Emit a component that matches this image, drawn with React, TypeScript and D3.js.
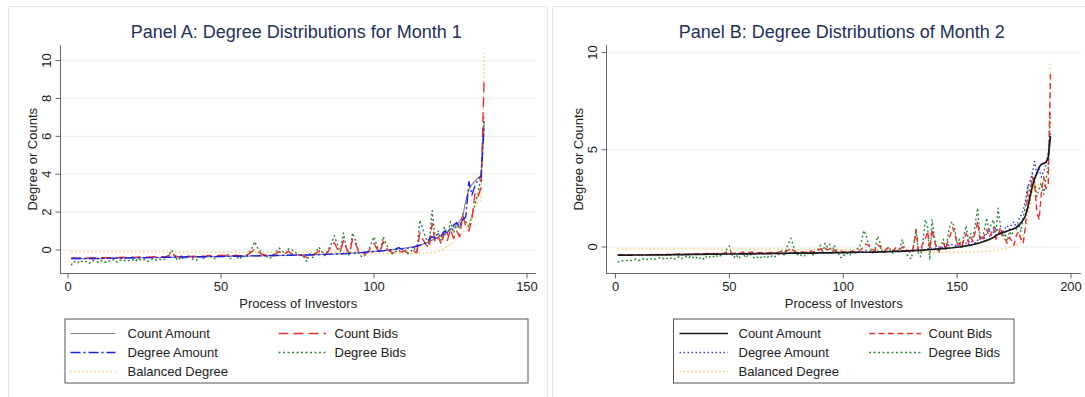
import * as d3 from 'd3';

const fontFamily = '"Liberation Sans", Arial, Helvetica, sans-serif';

// Panel A: month 1, investors 1..136 (sorted)
const m1CountAmount = [
  -0.46, -0.46, -0.46, -0.46, -0.46, -0.45, -0.45, -0.45, -0.45, -0.45,
  -0.45, -0.44, -0.44, -0.44, -0.44, -0.43, -0.43, -0.43, -0.43, -0.42,
  -0.42, -0.42, -0.42, -0.41, -0.41, -0.41, -0.41, -0.4, -0.4, -0.4,
  -0.4, -0.39, -0.39, -0.39, -0.38, -0.38, -0.38, -0.38, -0.37, -0.37,
  -0.37, -0.37, -0.36, -0.36, -0.36, -0.35, -0.35, -0.35, -0.35, -0.34,
  -0.34, -0.34, -0.33, -0.33, -0.33, -0.33, -0.32, -0.32, -0.32, -0.31,
  -0.31, -0.31, -0.31, -0.3, -0.3, -0.3, -0.29, -0.29, -0.29, -0.28,
  -0.28, -0.28, -0.27, -0.27, -0.27, -0.26, -0.26, -0.26, -0.25, -0.25,
  -0.24, -0.24, -0.23, -0.23, -0.22, -0.22, -0.21, -0.2, -0.2, -0.19,
  -0.18, -0.17, -0.16, -0.15, -0.14, -0.13, -0.12, -0.1, -0.09, -0.08,
  -0.06, -0.05, -0.03, -0.02, 0, 0.02, 0.04, 0.06, 0.08, 0.1,
  0.12, 0.15, 0.18, 0.22, 0.26, 0.31, 0.37, 0.44, 0.52, 0.6,
  0.68, 0.76, 0.85, 0.95, 1.05, 1.18, 1.32, 1.5, 1.8, 2.6,
  3.2, 3.45, 3.65, 3.8, 3.95, 6.8,
];
const m1DegreeAmount = [
  -0.45, -0.45, -0.45, -0.45, -0.45, -0.45, -0.45, -0.45, -0.45, -0.44,
  -0.44, -0.44, -0.44, -0.43, -0.43, -0.43, -0.42, -0.42, -0.42, -0.42,
  -0.41, -0.41, -0.41, -0.4, -0.41, -0.4, -0.4, -0.4, -0.39, -0.39,
  -0.39, -0.38, -0.38, -0.38, -0.37, -0.38, -0.37, -0.37, -0.36, -0.36,
  -0.37, -0.36, -0.35, -0.36, -0.35, -0.35, -0.34, -0.35, -0.34, -0.34,
  -0.34, -0.33, -0.33, -0.33, -0.32, -0.33, -0.32, -0.32, -0.31, -0.31,
  -0.31, -0.31, -0.3, -0.3, -0.3, -0.29, -0.3, -0.29, -0.29, -0.29,
  -0.28, -0.28, -0.28, -0.27, -0.27, -0.27, -0.26, -0.26, -0.26, -0.25,
  -0.25, -0.24, -0.24, -0.23, -0.23, -0.22, -0.22, -0.21, -0.2, -0.2,
  -0.19, -0.18, -0.17, -0.16, -0.15, -0.14, -0.12, -0.11, -0.1, -0.08,
  -0.07, -0.05, -0.04, -0.02, 0, 0.02, 0.03, 0.12, 0.04, 0.08,
  0.1, 0.12, 0.15, 0.2, 0.25, 0.3, 0.4, 0.55, 0.7, 0.62,
  0.85, 0.75, 1.0, 0.9, 1.15, 1.3, 1.45, 1.2, 1.6, 1.75,
  3.6, 2.9, 3.4, 3.7, 3.9, 6.5,
];
const m1CountBids = [
  -0.43, -0.42, -0.43, -0.42, -0.43, -0.42, -0.42, -0.41, -0.42, -0.41,
  -0.41, -0.4, -0.41, -0.4, -0.39, -0.4, -0.39, -0.38, -0.4, -0.38,
  -0.38, -0.39, -0.37, -0.38, -0.36, -0.38, -0.37, -0.36, -0.35, -0.37,
  -0.36, -0.35, -0.28, -0.12, -0.3, -0.36, -0.33, -0.35, -0.31, -0.34,
  -0.33, -0.35, -0.3, -0.32, -0.34, -0.28, -0.32, -0.33, -0.3, -0.28,
  -0.3, -0.26, -0.32, -0.3, -0.28, -0.31, -0.27, -0.3, -0.22, -0.1,
  0.05, -0.08, -0.2, -0.25, -0.28, -0.3, -0.26, -0.2, -0.08, -0.15,
  -0.2, -0.05, -0.22, -0.18, -0.22, -0.28, -0.3, -0.4, -0.28, -0.25,
  -0.2, -0.05, -0.15, -0.25, -0.1, 0.2, 0.4, 0.05, -0.1, 0.5,
  0.1, -0.2, 0.6, 0.35, -0.1, -0.25, -0.2, -0.1, 0.1, 0.35,
  0.05, -0.1, 0.45, 0.1, -0.05, -0.15, -0.1, -0.05, -0.1, -0.05,
  -0.15, -0.1, -0.05, -0.15, 0.9, 0.55, 0.3, 0.1, 1.4, 0.4,
  0.7, 0.3, 0.9, 0.5, 1.1, 0.6, 1.0, 0.7, 1.85, 1.2,
  1.0, 1.6, 3.0, 2.8, 3.3, 9.1,
];
const m1DegreeBids = [
  -0.8, -0.6, -0.7, -0.55, -0.65, -0.6, -0.7, -0.55, -0.6, -0.65,
  -0.55, -0.65, -0.55, -0.6, -0.5, -0.65, -0.55, -0.5, -0.6, -0.55,
  -0.5, -0.6, -0.45, -0.55, -0.5, -0.6, -0.5, -0.45, -0.55, -0.5,
  -0.55, -0.45, -0.25, 0, -0.4, -0.55, -0.35, -0.5, -0.3, -0.4,
  -0.5, -0.55, -0.35, -0.45, -0.4, -0.25, -0.4, -0.45, -0.35, -0.25,
  -0.4, -0.2, -0.45, -0.35, -0.3, -0.5, -0.3, -0.4, -0.15, 0.05,
  0.44, 0.1, -0.1, -0.3, -0.35, -0.45, -0.25, -0.1, 0.1, -0.05,
  -0.2, 0.05, 0.05, -0.1, -0.2, -0.3, -0.35, -0.6, -0.2, -0.4,
  -0.1, 0.15, -0.1, -0.3, 0, 0.3, 0.75, 0.3, -0.1, 0.9,
  0.05, -0.3, 0.9, 0.5, -0.2, -0.35, -0.3, -0.1, 0.3, 0.7,
  0.2, -0.1, 0.7, 0.3, 0, -0.2, -0.1, 0, -0.15, 0.05,
  -0.2, -0.1, 0.1, -0.05, 1.58, 1.1, 0.6, 0.3, 2.08, 0.6,
  1.0, 0.5, 1.2, 0.8, 1.5, 0.9, 1.3, 1.1, 1.9, 1.5,
  1.2, 1.8, 2.4, 3.0, 3.9, 7.0,
];
const m1BalancedDegree = [
  -0.1, -0.1, -0.11, -0.1, -0.1, -0.11, -0.1, -0.1, -0.1, -0.11,
  -0.1, -0.1, -0.11, -0.1, -0.11, -0.1, -0.1, -0.11, -0.1, -0.1,
  -0.11, -0.1, -0.1, -0.11, -0.1, -0.1, -0.11, -0.1, -0.11, -0.1,
  -0.1, -0.11, -0.1, -0.1, -0.11, -0.1, -0.11, -0.1, -0.1, -0.11,
  -0.1, -0.11, -0.1, -0.11, -0.1, -0.1, -0.11, -0.11, -0.1, -0.11,
  -0.11, -0.1, -0.11, -0.11, -0.1, -0.11, -0.11, -0.11, -0.1, -0.11,
  -0.11, -0.11, -0.11, -0.1, -0.11, -0.11, -0.11, -0.12, -0.11, -0.11,
  -0.11, -0.12, -0.11, -0.11, -0.12, -0.11, -0.12, -0.11, -0.12, -0.12,
  -0.12, -0.11, -0.12, -0.12, -0.12, -0.12, -0.12, -0.12, -0.12, -0.12,
  -0.12, -0.12, -0.13, -0.13, -0.14, -0.14, -0.15, -0.15, -0.16, -0.16,
  -0.17, -0.17, -0.17, -0.18, -0.18, -0.18, -0.18, -0.18, -0.18, -0.18,
  -0.18, -0.18, -0.18, -0.17, -0.17, -0.16, -0.16, -0.15, -0.14, -0.12,
  -0.08, 0, 0.1, 0.2, 0.3, 0.42, 0.55, 0.7, 0.9, 1.1,
  1.4, 1.8, 2.4, 2.5, 2.6, 10.4,
];

// Panel B: month 2, investors 1..191 (sorted)
const m2CountAmount = [
  -0.42, -0.42, -0.42, -0.42, -0.42, -0.42, -0.42, -0.41, -0.41, -0.41,
  -0.41, -0.41, -0.41, -0.41, -0.41, -0.4, -0.4, -0.4, -0.4, -0.4,
  -0.4, -0.4, -0.4, -0.4, -0.39, -0.39, -0.39, -0.39, -0.39, -0.39,
  -0.39, -0.39, -0.38, -0.38, -0.38, -0.38, -0.38, -0.38, -0.38, -0.37,
  -0.37, -0.37, -0.37, -0.37, -0.37, -0.37, -0.36, -0.36, -0.36, -0.36,
  -0.36, -0.36, -0.36, -0.36, -0.35, -0.35, -0.35, -0.35, -0.35, -0.35,
  -0.35, -0.34, -0.34, -0.34, -0.34, -0.34, -0.34, -0.34, -0.33, -0.33,
  -0.33, -0.33, -0.33, -0.33, -0.33, -0.32, -0.32, -0.32, -0.32, -0.32,
  -0.32, -0.32, -0.31, -0.31, -0.31, -0.31, -0.31, -0.31, -0.3, -0.3,
  -0.3, -0.3, -0.3, -0.3, -0.3, -0.29, -0.29, -0.29, -0.29, -0.29,
  -0.29, -0.28, -0.28, -0.28, -0.28, -0.28, -0.27, -0.27, -0.27, -0.27,
  -0.27, -0.26, -0.26, -0.26, -0.26, -0.25, -0.25, -0.25, -0.24, -0.24,
  -0.24, -0.23, -0.23, -0.22, -0.22, -0.21, -0.21, -0.2, -0.2, -0.19,
  -0.19, -0.18, -0.17, -0.17, -0.16, -0.15, -0.14, -0.14, -0.13, -0.12,
  -0.11, -0.1, -0.09, -0.08, -0.07, -0.06, -0.05, -0.04, -0.02, -0.01,
  0, 0.02, 0.04, 0.06, 0.08, 0.1, 0.13, 0.16, 0.19, 0.22,
  0.26, 0.3, 0.34, 0.38, 0.44, 0.5, 0.58, 0.65, 0.7, 0.74,
  0.78, 0.82, 0.86, 0.9, 0.95, 1.0, 1.1, 1.25, 1.4, 1.6,
  2.0, 2.6, 3.1, 3.5, 3.8, 4.1, 4.25, 4.3, 4.35, 4.6, 5.7,
];
const m2DegreeAmount = [
  -0.42, -0.42, -0.42, -0.42, -0.42, -0.42, -0.42, -0.42, -0.41, -0.41,
  -0.41, -0.41, -0.41, -0.41, -0.41, -0.41, -0.4, -0.4, -0.4, -0.4,
  -0.4, -0.4, -0.4, -0.4, -0.4, -0.39, -0.39, -0.39, -0.39, -0.39,
  -0.39, -0.39, -0.38, -0.38, -0.38, -0.38, -0.38, -0.37, -0.38, -0.37,
  -0.37, -0.37, -0.37, -0.36, -0.37, -0.36, -0.36, -0.36, -0.36, -0.35,
  -0.36, -0.35, -0.36, -0.35, -0.35, -0.35, -0.34, -0.35, -0.34, -0.35,
  -0.34, -0.34, -0.34, -0.34, -0.33, -0.34, -0.33, -0.33, -0.33, -0.33,
  -0.33, -0.32, -0.33, -0.32, -0.32, -0.3, -0.31, -0.32, -0.32, -0.31,
  -0.31, -0.31, -0.31, -0.3, -0.31, -0.3, -0.3, -0.3, -0.29, -0.28,
  -0.29, -0.27, -0.29, -0.28, -0.29, -0.28, -0.28, -0.28, -0.28, -0.28,
  -0.28, -0.27, -0.27, -0.27, -0.27, -0.26, -0.26, -0.25, -0.22, -0.2,
  -0.22, -0.24, -0.25, -0.25, -0.22, -0.23, -0.24, -0.24, -0.23, -0.22,
  -0.22, -0.22, -0.21, -0.21, -0.2, -0.19, -0.2, -0.19, -0.19, -0.18,
  -0.15, -0.1, -0.2, -0.18, -0.12, -0.15, -0.1, -0.05, -0.12, -0.08,
  -0.05, 0, -0.08, 0.05, 0, 0.1, 0.05, 0.15, 0.1, 0.05,
  0.1, 0.05, 0.15, 0.2, 0.1, 0.25, 0.3, 0.2, 0.35, 0.4,
  0.5, 0.45, 0.7, 0.9, 0.6, 0.75, 1.0, 0.85, 0.7, 0.8,
  0.95, 1.1, 0.9, 1.2, 1.3, 1.0, 1.4, 1.6, 1.9, 2.4,
  3.0, 3.4, 3.8, 4.4, 3.7, 4.0, 3.6, 3.9, 4.2, 4.8, 5.9,
];
const m2CountBids = [
  -0.4, -0.4, -0.4, -0.4, -0.4, -0.4, -0.4, -0.4, -0.39, -0.4,
  -0.39, -0.4, -0.39, -0.39, -0.4, -0.38, -0.39, -0.38, -0.39, -0.38,
  -0.38, -0.39, -0.37, -0.38, -0.37, -0.38, -0.37, -0.36, -0.38, -0.36,
  -0.37, -0.36, -0.35, -0.37, -0.36, -0.35, -0.36, -0.34, -0.35, -0.33,
  -0.35, -0.34, -0.33, -0.35, -0.32, -0.34, -0.33, -0.32, -0.25, -0.2,
  -0.3, -0.33, -0.28, -0.32, -0.3, -0.25, -0.31, -0.3, -0.28, -0.26,
  -0.3, -0.32, -0.28, -0.3, -0.27, -0.29, -0.31, -0.28, -0.26, -0.3,
  -0.28, -0.25, -0.2, -0.27, -0.22, -0.15, -0.05, -0.18, -0.25, -0.28,
  -0.26, -0.24, -0.28, -0.22, -0.25, -0.2, -0.26, -0.24, -0.18, -0.1,
  -0.22, -0.05, -0.15, -0.1, -0.22, -0.15, -0.25, -0.24, -0.2, -0.25,
  -0.26, -0.22, -0.24, -0.2, -0.25, -0.18, -0.22, -0.1, 0, 0.15,
  0.1, -0.05, -0.15, -0.2, 0.1, 0.05, -0.15, -0.2, -0.1, -0.05,
  -0.12, -0.2, -0.05, -0.15, -0.1, 0, -0.2, -0.15, -0.25, -0.3,
  0.1, 0.9, -0.2, -0.1, 0.2, 0.4, 0.8, -0.1, 0.9, 0.3,
  -0.05, -0.2, 0, 0.2, -0.1, 0.3, 0.6, 1.0, 0.7, 0.1,
  0.2, 0, 0.4, 0.7, 0.2, 0.5, 0.3, 0.8, 1.3, 0.4,
  0.3, 0.6, 0.9, 0.5, 0.7, 1.0, 0.4, 0.6, 1.0, 0.5,
  0.4, 0.2, 0.5, 0.3, 0.1, 0.6, 0.8, 0.4, 0.2, 1.0,
  2.9, 2.4, 3.6, 3.2, 1.8, 1.4, 2.8, 3.6, 3.0, 3.2, 8.9,
];
const m2DegreeBids = [
  -0.8, -0.7, -0.72, -0.68, -0.7, -0.65, -0.7, -0.66, -0.62, -0.7,
  -0.65, -0.6, -0.68, -0.62, -0.66, -0.58, -0.64, -0.6, -0.55, -0.62,
  -0.58, -0.65, -0.55, -0.6, -0.52, -0.62, -0.56, -0.5, -0.6, -0.55,
  -0.5, -0.58, -0.45, -0.55, -0.62, -0.5, -0.58, -0.52, -0.65, -0.48,
  -0.55, -0.45, -0.5, -0.4, -0.52, -0.46, -0.38, -0.3, -0.1, 0.05,
  -0.35, -0.55, -0.4, -0.6, -0.45, -0.3, -0.55, -0.45, -0.35, -0.5,
  -0.55, -0.48, -0.6, -0.52, -0.45, -0.58, -0.5, -0.55, -0.42, -0.5,
  -0.45, -0.35, -0.2, -0.4, -0.1, 0.2, 0.45, 0.1, -0.3, -0.4,
  -0.35, -0.5, -0.45, -0.3, -0.4, -0.25, -0.45, -0.3, -0.1, 0.1,
  -0.3, 0.2, 0, 0.15, -0.3, 0.1, -0.2, -0.35, -0.55, -0.4,
  -0.45, -0.3, -0.4, -0.2, -0.35, -0.1, -0.05, 0.3, 0.85, 0.6,
  0.2, -0.1, -0.3, -0.1, 0.55, 0.3, -0.2, -0.3, -0.1, 0,
  -0.2, -0.35, -0.1, -0.25, 0, 0.4, -0.2, -0.4, -0.55, -0.6,
  0.2, 0.9, -0.3, -0.5, 0.3, 1.4, 1.1, -0.65, 1.4, 0.5,
  0, -0.3, 0.1, 0.4, -0.2, 0.6, 1.2, 1.3, 0.9, 0.2,
  0.4, -0.1, 0.6, 1.1, 0.3, 0.7, 0.5, 1.2, 2.0, 0.6,
  0.4, 0.9, 1.5, 0.8, 1.2, 1.4, 0.6, 2.0, 1.1, 0.5,
  0.7, 0.3, 0.8, 0.6, 1.0, 0.9, 1.2, 0.8, 1.5, 2.1,
  3.2, 2.8, 3.8, 3.4, 2.6, 3.0, 3.3, 2.7, 3.5, 4.0, 7.0,
];
const m2BalancedDegree = [
  -0.1, -0.1, -0.11, -0.1, -0.1, -0.11, -0.1, -0.1, -0.1, -0.11,
  -0.1, -0.1, -0.11, -0.1, -0.11, -0.1, -0.1, -0.11, -0.1, -0.1,
  -0.11, -0.1, -0.1, -0.11, -0.1, -0.1, -0.11, -0.1, -0.11, -0.1,
  -0.1, -0.11, -0.1, -0.1, -0.11, -0.1, -0.11, -0.1, -0.1, -0.11,
  -0.1, -0.11, -0.1, -0.11, -0.1, -0.1, -0.11, -0.11, -0.1, -0.11,
  -0.11, -0.1, -0.11, -0.11, -0.1, -0.11, -0.11, -0.11, -0.1, -0.11,
  -0.11, -0.11, -0.11, -0.1, -0.11, -0.11, -0.11, -0.12, -0.11, -0.11,
  -0.11, -0.12, -0.11, -0.11, -0.12, -0.11, -0.12, -0.11, -0.12, -0.12,
  -0.12, -0.11, -0.12, -0.12, -0.12, -0.12, -0.12, -0.12, -0.12, -0.12,
  -0.12, -0.12, -0.12, -0.12, -0.12, -0.12, -0.12, -0.12, -0.12, -0.12,
  -0.12, -0.12, -0.12, -0.12, -0.12, -0.12, -0.12, -0.12, -0.12, -0.12,
  -0.12, -0.12, -0.12, -0.12, -0.12, -0.12, -0.12, -0.12, -0.12, -0.12,
  -0.12, -0.13, -0.14, -0.15, -0.16, -0.17, -0.18, -0.19, -0.2, -0.21,
  -0.22, -0.23, -0.24, -0.25, -0.25, -0.26, -0.26, -0.27, -0.27, -0.27,
  -0.28, -0.28, -0.28, -0.28, -0.28, -0.28, -0.28, -0.28, -0.27, -0.27,
  -0.27, -0.27, -0.26, -0.26, -0.26, -0.25, -0.25, -0.24, -0.24, -0.23,
  -0.23, -0.22, -0.21, -0.2, -0.19, -0.18, -0.16, -0.14, -0.12, -0.1,
  -0.08, -0.05, -0.02, 0, 0.05, 0.1, 0.15, 0.3, 0.6, 1.0,
  1.6, 2.2, 2.8, 3.2, 3.0, 3.3, 3.4, 3.5, 3.6, 4.5, 9.5,
];

const m1XTicks = [0, 50, 100, 150];
const m1YTicks = [0, 2, 4, 6, 8, 10];
const m2XTicks = [0, 50, 100, 150, 200];
const m2YTicks = [0, 5, 10];

type Series = {
  name: string;
  values: number[];
  color: string;
  dash?: string;
  width: number;
};

type Box = { left: number; right: number; top: number; bottom: number };

type LegendLayout = {
  left: number;
  right: number;
  top: number;
  bottom: number;
  sample: [number, number, number, number]; // col1 x1,x2, col2 x1,x2
  text: [number, number];
  rows: number[];
};

// [column, row] of each series in the legend, two columns like Stata's cols(2)
const legendSlots: [number, number][] = [
  [0, 0], // Count Amount
  [0, 1], // Degree Amount
  [1, 0], // Count Bids
  [1, 1], // Degree Bids
  [0, 2], // Balanced Degree
];

function Panel({
  title,
  series,
  drawOrder,
  x,
  y,
  xTicks,
  yTicks,
  plot,
  legend,
}: {
  title: string;
  series: Series[];
  drawOrder: number[];
  x: d3.ScaleLinear<number, number>;
  y: d3.ScaleLinear<number, number>;
  xTicks: number[];
  yTicks: number[];
  plot: Box;
  legend: LegendLayout;
}) {
  const line = d3
    .line<number>()
    .x((_, i) => x(i + 1))
    .y((d) => y(d));
  const cx = (plot.left + plot.right) / 2;
  const cy = (plot.top + plot.bottom) / 2;
  return (
    <g fontFamily={fontFamily}>
      <text x={cx - 2} y={37.5} textAnchor="middle" fontSize={18} fill="#22305a">
        {title}
      </text>
      {yTicks.map((t) => (
        <line key={'g' + t} x1={plot.left} x2={plot.right} y1={y(t)} y2={y(t)} stroke="#ececec" strokeWidth={1} />
      ))}
      {drawOrder.map((k) => {
        const s = series[k];
        return (
          <path
            key={s.name}
            d={line(s.values) ?? undefined}
            fill="none"
            stroke={s.color}
            strokeWidth={s.width}
            strokeDasharray={s.dash}
            strokeLinejoin="round"
          />
        );
      })}
      <line x1={plot.left} x2={plot.left} y1={plot.top} y2={plot.bottom} stroke="#666" />
      <line x1={plot.left} x2={plot.right} y1={plot.bottom} y2={plot.bottom} stroke="#666" />
      {yTicks.map((t) => (
        <g key={'y' + t}>
          <line x1={plot.left - 5} x2={plot.left} y1={y(t)} y2={y(t)} stroke="#666" />
          <text
            transform={`translate(${plot.left - 10},${y(t)}) rotate(-90)`}
            textAnchor="middle"
            fontSize={13}
            fill="#222"
          >
            {t}
          </text>
        </g>
      ))}
      {xTicks.map((t) => (
        <g key={'x' + t}>
          <line x1={x(t)} x2={x(t)} y1={plot.bottom} y2={plot.bottom + 5} stroke="#666" />
          <text x={x(t)} y={291} textAnchor="middle" fontSize={13} fill="#222">
            {t}
          </text>
        </g>
      ))}
      <text
        transform={`translate(${plot.left - 24},${cy}) rotate(-90)`}
        textAnchor="middle"
        fontSize={13}
        fill="#222"
      >
        Degree or Counts
      </text>
      <text x={cx} y={307.5} textAnchor="middle" fontSize={13} fill="#222">
        Process of Investors
      </text>
      <rect
        x={legend.left}
        y={legend.top}
        width={legend.right - legend.left}
        height={legend.bottom - legend.top}
        fill="#fff"
        stroke="#555"
        strokeWidth={1}
      />
      {series.map((s, k) => {
        const [col, row] = legendSlots[k];
        const ly = legend.rows[row];
        const x1 = col === 0 ? legend.sample[0] : legend.sample[2];
        const x2 = col === 0 ? legend.sample[1] : legend.sample[3];
        return (
          <g key={'l' + s.name}>
            <line x1={x1} x2={x2} y1={ly} y2={ly} stroke={s.color} strokeWidth={s.width} strokeDasharray={s.dash} />
            <text x={legend.text[col]} y={ly + 4.5} fontSize={13} fill="#222">
              {s.name}
            </text>
          </g>
        );
      })}
    </g>
  );
}

export default function App() {
  const plotA: Box = { left: 60.5, right: 536, top: 45, bottom: 273.5 };
  const plotB: Box = { left: 606.5, right: 1081, top: 45, bottom: 273.5 };
  const xA = d3.scaleLinear().domain([0, 150]).range([68, 527]);
  const yA = d3.scaleLinear().domain([0, 10]).range([250, 60.5]);
  const xB = d3.scaleLinear().domain([0, 200]).range([615.5, 1071]);
  const yB = d3.scaleLinear().domain([0, 10]).range([247, 52.5]);

  const seriesA: Series[] = [
    { name: 'Count Amount', values: m1CountAmount, color: '#858585', width: 1.2 },
    { name: 'Degree Amount', values: m1DegreeAmount, color: '#1d1df2', dash: '10,3,2,3', width: 1.4 },
    { name: 'Count Bids', values: m1CountBids, color: '#e8302e', dash: '10,5', width: 1.4 },
    { name: 'Degree Bids', values: m1DegreeBids, color: '#2f7d3a', dash: '2,2.5', width: 1.4 },
    { name: 'Balanced Degree', values: m1BalancedDegree, color: '#f8c95e', dash: '1.5,2.5', width: 1.3 },
  ];
  const seriesB: Series[] = [
    { name: 'Count Amount', values: m2CountAmount, color: '#1b1b1b', width: 1.7 },
    { name: 'Degree Amount', values: m2DegreeAmount, color: '#3232f5', dash: '1.5,2.5', width: 1.4 },
    { name: 'Count Bids', values: m2CountBids, color: '#e8302e', dash: '6,3.5', width: 1.4 },
    { name: 'Degree Bids', values: m2DegreeBids, color: '#2f8a3a', dash: '2,2.5', width: 1.4 },
    { name: 'Balanced Degree', values: m2BalancedDegree, color: '#f8c95e', dash: '1.5,2.5', width: 1.3 },
  ];

  return (
    <svg
      width={1085}
      height={397}
      style={{ position: 'absolute', left: 0, top: 0, background: '#fff' }}
    >
      <rect x={8.5} y={6.5} width={539} height={400} fill="#fff" stroke="#e4e6e8" />
      <rect x={552.5} y={6.5} width={540} height={400} fill="#fff" stroke="#dfe8ea" />
      <Panel
        title="Panel A: Degree Distributions for Month 1"
        series={seriesA}
        drawOrder={[0, 4, 3, 2, 1]}
        x={xA}
        y={yA}
        xTicks={m1XTicks}
        yTicks={m1YTicks}
        plot={plotA}
        legend={{
          left: 65,
          right: 528,
          top: 319,
          bottom: 383,
          sample: [70.5, 115.5, 278.5, 326],
          text: [127.5, 334.5],
          rows: [333.5, 352.5, 371.5],
        }}
      />
      <Panel
        title="Panel B: Degree Distributions of Month 2"
        series={seriesB}
        drawOrder={[4, 3, 1, 2, 0]}
        x={xB}
        y={yB}
        xTicks={m2XTicks}
        yTicks={m2YTicks}
        plot={plotB}
        legend={{
          left: 673.5,
          right: 1014,
          top: 319,
          bottom: 383,
          sample: [679.5, 728, 869, 921],
          text: [738.5, 928.5],
          rows: [333.5, 352.5, 371.5],
        }}
      />
    </svg>
  );
}
